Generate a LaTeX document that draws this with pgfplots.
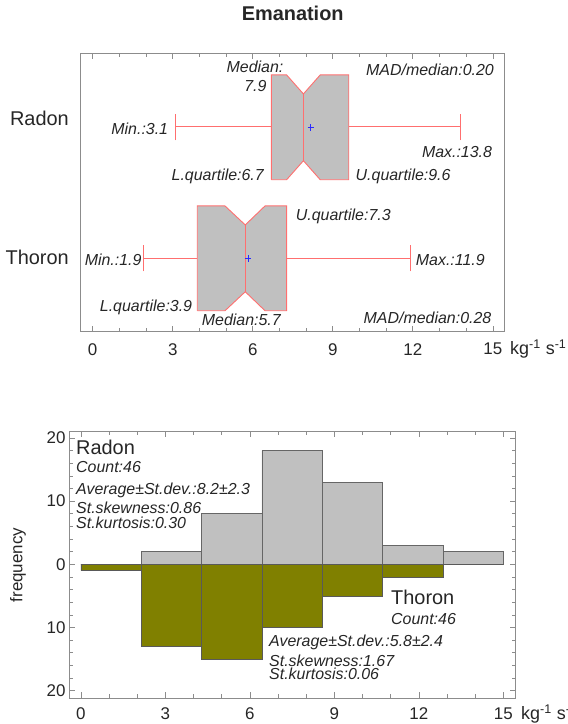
\documentclass[border=0pt]{standalone}
\usepackage{pgfplots}
\pgfplotsset{compat=1.18}
\usepackage{fontspec}
\setmainfont{Liberation Sans}
\setsansfont{Liberation Sans}
\definecolor{boxred}{HTML}{FF6F6F}
\definecolor{boxgray}{HTML}{C0C0C0}
\definecolor{olivebar}{HTML}{808000}
\definecolor{framegray}{HTML}{8C8C8C}
\definecolor{meanblue}{HTML}{2A2AFF}
\definecolor{txt}{HTML}{262626}
\newcommand{\lab}{\fontsize{16}{18}\selectfont\itshape\color{txt}}
\newcommand{\bigf}{\fontsize{20}{22}\selectfont\color{txt}}
\newcommand{\tickf}{\fontsize{17}{19}\selectfont\color{txt}}
\begin{document}
\begin{tikzpicture}
\path[use as bounding box] (0,0) rectangle (568bp,-724bp);
% ---------------- box plot ----------------
\begin{axis}[
  at={(80.7bp,-331.7bp)}, anchor=south west,
  scale only axis, width=423.3bp, height=278.4bp,
  xmin=-0.45, xmax=15.42, ymin=0.44, ymax=2.565,
  xtick={0,3,...,15}, minor x tick num=2, ytick=\empty,
  axis line style={draw=framegray, line width=0.8bp},
  tick style={draw=framegray, line width=0.6bp},
  major tick length=6bp, minor tick length=4bp,
  xticklabel style={font=\tickf, yshift=-8bp},
  /pgf/number format/assume math mode=true,
  clip=false,
]
% Radon box (notched)
\addplot[fill=boxgray, draw=boxred, line width=0.9bp] coordinates {
 (6.7,1.6) (7.27,1.6) (7.9,1.745) (8.53,1.6) (9.6,1.6) (9.6,2.4) (8.53,2.4) (7.9,2.255) (7.27,2.4) (6.7,2.4) (6.7,1.6)};
\addplot[draw=boxred, line width=0.9bp] coordinates {(7.9,1.745) (7.9,2.255)};
\addplot[draw=boxred, line width=1bp] coordinates {(3.1,2.003) (6.7,2.003)};
\addplot[draw=boxred, line width=1bp] coordinates {(9.6,2.003) (13.8,2.003)};
\addplot[draw=boxred, line width=1bp] coordinates {(3.1,1.9) (3.1,2.1)};
\addplot[draw=boxred, line width=1bp] coordinates {(13.8,1.9) (13.8,2.1)};
\addplot[only marks, mark=+, mark size=3.3bp, mark options={draw=meanblue, line width=0.8bp}] coordinates {(8.18,1.997)};
% Thoron box (notched)
\addplot[fill=boxgray, draw=boxred, line width=0.9bp] coordinates {
 (3.92,0.6) (4.96,0.6) (5.72,0.745) (6.46,0.6) (7.27,0.6) (7.27,1.4) (6.46,1.4) (5.72,1.255) (4.96,1.4) (3.92,1.4) (3.92,0.6)};
\addplot[draw=boxred, line width=0.9bp] coordinates {(5.72,0.745) (5.72,1.255)};
\addplot[draw=boxred, line width=1bp] coordinates {(1.9,1) (3.92,1)};
\addplot[draw=boxred, line width=1bp] coordinates {(7.27,1) (11.9,1)};
\addplot[draw=boxred, line width=1bp] coordinates {(1.9,0.9) (1.9,1.1)};
\addplot[draw=boxred, line width=1bp] coordinates {(11.9,0.9) (11.9,1.1)};
\addplot[only marks, mark=+, mark size=3.3bp, mark options={draw=meanblue, line width=0.8bp}] coordinates {(5.82,1)};
\end{axis}
% ---------------- histogram ----------------
\begin{axis}[
  at={(69.1bp,-697.9bp)}, anchor=south west,
  scale only axis, width=446.7bp, height=266.9bp,
  xmin=-0.42, xmax=15.44, ymin=-21.14, ymax=21.09,
  xtick={0,3,...,15}, minor x tick num=2,
  ytick={-20,-10,0,10,20}, yticklabels={20,10,0,10,20}, minor y tick num=4,
  axis line style={draw=framegray, line width=0.8bp},
  tick style={draw=framegray, line width=0.6bp},
  major tick length=6bp, minor tick length=3.5bp,
  xticklabel style={font=\tickf, yshift=-6bp},
  yticklabel style={font=\tickf},
  /pgf/number format/assume math mode=true,
]
\addplot[ybar interval, fill=boxgray, draw=black!60, line width=0.7bp] coordinates {
 (0,0) (2.142857,2) (4.285714,8) (6.428571,18) (8.571429,13) (10.714286,3) (12.857143,2) (15,2)};
\addplot[ybar interval, fill=olivebar, draw=black!65, line width=0.7bp] coordinates {
 (0,-1) (2.142857,-13) (4.285714,-15) (6.428571,-10) (8.571429,-5) (10.714286,-2) (12.857143,0) (15,0)};
\end{axis}
% ---------------- texts ----------------
\node[anchor=base, inner sep=0, font=\fontsize{20}{22}\selectfont\bfseries, text=txt] at (292.7bp,-20.5bp) {Emanation};
\node[anchor=base east, inner sep=0, font=\bigf] at (69bp,-125.9bp) {Radon};
\node[anchor=base east, inner sep=0, font=\bigf] at (69bp,-264.7bp) {Thoron};
\node[anchor=base, inner sep=0, font=\lab] at (255bp,-72.4bp) {Median:};
\node[anchor=base east, inner sep=0, font=\lab] at (266.7bp,-91.4bp) {7.9};
\node[anchor=base east, inner sep=0, font=\lab] at (494bp,-75.7bp) {MAD/median:0.20};
\node[anchor=base east, inner sep=0, font=\lab] at (168.3bp,-134bp) {Min.:3.1};
\node[anchor=base east, inner sep=0, font=\lab] at (492.2bp,-157.4bp) {Max.:13.8};
\node[anchor=base east, inner sep=0, font=\lab] at (264bp,-180.7bp) {L.quartile:6.7};
\node[anchor=base west, inner sep=0, font=\lab] at (355.5bp,-180.7bp) {U.quartile:9.6};
\node[anchor=base west, inner sep=0, font=\lab] at (295.7bp,-220.7bp) {U.quartile:7.3};
\node[anchor=base east, inner sep=0, font=\lab] at (141.7bp,-265.7bp) {Min.:1.9};
\node[anchor=base west, inner sep=0, font=\lab] at (415.7bp,-265.7bp) {Max.:11.9};
\node[anchor=base east, inner sep=0, font=\lab] at (192.3bp,-311.4bp) {L.quartile:3.9};
\node[anchor=base west, inner sep=0, font=\lab] at (201.7bp,-325bp) {Median:5.7};
\node[anchor=base east, inner sep=0, font=\lab] at (491.5bp,-323.7bp) {MAD/median:0.28};
\node[anchor=base west, inner sep=0, font=\fontsize{18}{20}\selectfont\color{txt}] at (510bp,-354.4bp) {kg\textsuperscript{-1} s\textsuperscript{-1}};
\node[anchor=base west, inner sep=0, font=\fontsize{18}{20}\selectfont\color{txt}] at (521bp,-719.4bp) {kg\textsuperscript{-1} s\textsuperscript{-1}};
\node[rotate=90, inner sep=0, font=\tickf] at (18bp,-565bp) {frequency};
\node[anchor=base west, inner sep=0, font=\bigf] at (76bp,-454.2bp) {Radon};
\node[anchor=base west, inner sep=0, font=\lab] at (76bp,-472bp) {Count:46};
\node[anchor=base west, inner sep=0, font=\lab] at (76bp,-494.7bp) {Average±St.dev.:8.2±2.3};
\node[anchor=base west, inner sep=0, font=\lab] at (76bp,-513bp) {St.skewness:0.86};
\node[anchor=base west, inner sep=0, font=\lab] at (76bp,-528bp) {St.kurtosis:0.30};
\node[anchor=base west, inner sep=0, font=\bigf] at (391bp,-604.9bp) {Thoron};
\node[anchor=base west, inner sep=0, font=\lab] at (391bp,-624.7bp) {Count:46};
\node[anchor=base west, inner sep=0, font=\lab] at (269bp,-646.4bp) {Average±St.dev.:5.8±2.4};
\node[anchor=base west, inner sep=0, font=\lab] at (269bp,-666.4bp) {St.skewness:1.67};
\node[anchor=base west, inner sep=0, font=\lab] at (269bp,-679.7bp) {St.kurtosis:0.06};
\end{tikzpicture}
\end{document}
